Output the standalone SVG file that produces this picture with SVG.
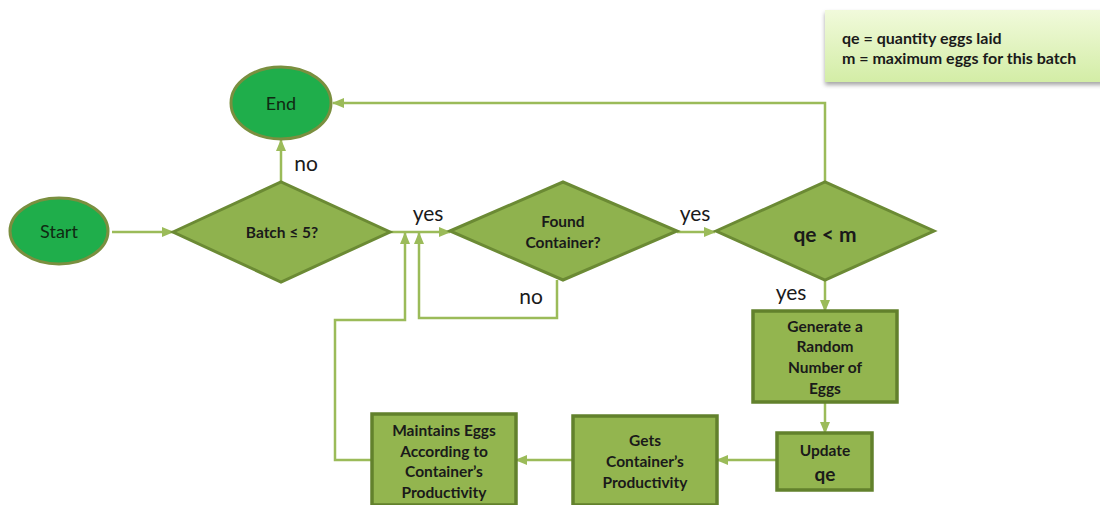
<svg xmlns="http://www.w3.org/2000/svg" width="1100" height="505" viewBox="0 0 1100 505">
  <defs>
    <marker id="arrow" viewBox="0 0 12 10" refX="11" refY="5" markerWidth="12" markerHeight="10" markerUnits="userSpaceOnUse" orient="auto">
      <path d="M0,0 L12,5 L0,10 Z" fill="#9bbb59"/>
    </marker>
    <linearGradient id="noteFill" x1="0" y1="0" x2="0" y2="1">
      <stop offset="0" stop-color="#f1fadb"/>
      <stop offset="1" stop-color="#d3eda6"/>
    </linearGradient>
    <filter id="shadow" x="-10%" y="-20%" width="120%" height="150%">
      <feDropShadow dx="0" dy="3" stdDeviation="2" flood-color="#000" flood-opacity="0.35"/>
    </filter>
  </defs>
  <style>
    .term { fill: #1fae4b; stroke: #7a8f3f; stroke-width: 3; }
    .dec { fill: #8fb24e; stroke: #6b8a34; stroke-width: 3; }
    .proc { fill: #93b54f; stroke: #62812c; stroke-width: 3.5; }
    .edge { fill: none; stroke: #9bbb59; stroke-width: 2.5; }
    text { font-family: Lato, "Open Sans", "Liberation Sans", sans-serif; fill: #1a1a1a; text-anchor: middle; dominant-baseline: central; }
    .t { font-size: 18px; fill: #0f2a12; }
    .b { font-size: 15.5px; font-weight: bold; }
    .lbl { font-size: 21px; }
    .note { font-size: 16px; font-weight: bold; text-anchor: start; }
  </style>

  <rect width="1100" height="505" fill="#ffffff"/>

  <!-- legend -->
  <g id="legend">
    <rect x="825" y="10" width="280" height="72" fill="url(#noteFill)" filter="url(#shadow)"/>
    <text class="note" x="842" y="37">qe = quantity eggs laid</text>
    <text class="note" x="842" y="57">m = maximum eggs for this batch</text>
  </g>

  <!-- connectors -->
  <g id="connectors">
    <path class="edge" d="M112,232 L173,232" marker-end="url(#arrow)"/>
    <path class="edge" d="M281,182 L281,140" marker-end="url(#arrow)"/>
    <path class="edge" d="M390,232 L450,232" marker-end="url(#arrow)"/>
    <path class="edge" d="M677,232 L715,232" marker-end="url(#arrow)"/>
    <path class="edge" d="M825,182 L825,103 L333,103" marker-end="url(#arrow)"/>
    <path class="edge" d="M557,280 L557,318 L419,318 L419,233" marker-end="url(#arrow)"/>
    <path class="edge" d="M825,281 L825,311" marker-end="url(#arrow)"/>
    <path class="edge" d="M825,402 L825,433" marker-end="url(#arrow)"/>
    <path class="edge" d="M777,460 L717,460" marker-end="url(#arrow)"/>
    <path class="edge" d="M573,460 L516,460" marker-end="url(#arrow)"/>
    <path class="edge" d="M372,460 L335,460 L335,320 L405,320 L405,233" marker-end="url(#arrow)"/>
    <text class="lbl" x="306" y="162">no</text>
    <text class="lbl" x="428" y="212">yes</text>
    <text class="lbl" x="695" y="212">yes</text>
    <text class="lbl" x="531" y="295">no</text>
    <text class="lbl" x="791" y="291">yes</text>
  </g>

  <g id="start">
    <ellipse class="term" cx="59" cy="231" rx="49" ry="33"/>
    <text class="t" x="59" y="231">Start</text>
  </g>

  <g id="end">
    <ellipse class="term" cx="281" cy="103" rx="50" ry="36"/>
    <text class="t" x="281" y="103">End</text>
  </g>

  <g id="batch">
    <polygon class="dec" points="173,232 281,182 390,232 281,282"/>
    <text class="b" x="282" y="232">Batch ≤ 5?</text>
  </g>

  <g id="found">
    <polygon class="dec" points="450,231 563,182 677,231 563,280"/>
    <text class="b" x="563" y="221">Found</text>
    <text class="b" x="563" y="242">Container?</text>
  </g>

  <g id="check">
    <polygon class="dec" points="716,231 825,182 934,231 825,280"/>
    <text x="825" y="233" style="font-size:21px;font-weight:bold">qe &lt; m</text>
  </g>

  <g id="generate">
    <rect class="proc" x="753" y="311" width="144" height="91"/>
    <text class="b" x="825" y="326">Generate a</text>
    <text class="b" x="825" y="346">Random</text>
    <text class="b" x="825" y="367">Number of</text>
    <text class="b" x="825" y="388">Eggs</text>
  </g>

  <g id="update">
    <rect class="proc" x="777" y="433" width="95" height="57"/>
    <text class="b" x="825" y="450">Update</text>
    <text x="825" y="473" style="font-size:19px;font-weight:bold">qe</text>
  </g>

  <g id="gets">
    <rect class="proc" x="573" y="416" width="144" height="89"/>
    <text class="b" x="645" y="440">Gets</text>
    <text class="b" x="645" y="461">Container’s</text>
    <text class="b" x="645" y="482">Productivity</text>
  </g>

  <g id="maintains">
    <rect class="proc" x="372" y="414" width="144" height="91"/>
    <text class="b" x="444" y="430">Maintains Eggs</text>
    <text class="b" x="444" y="451">According to</text>
    <text class="b" x="444" y="471">Container’s</text>
    <text class="b" x="444" y="492">Productivity</text>
  </g>
</svg>
